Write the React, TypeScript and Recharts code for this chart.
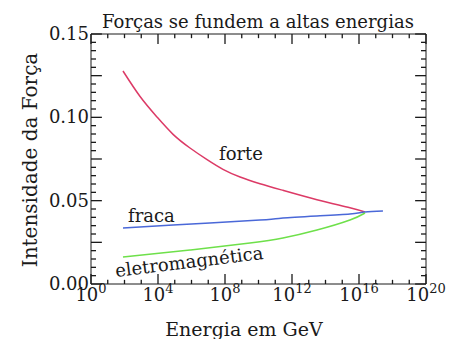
import React from "react";
import { LineChart, Line, XAxis, YAxis, ReferenceLine } from "recharts";

// log10(E / GeV) for each sampled point, and coupling strength
const forteLogE = [1.91, 2.93, 3.94, 4.9, 5.91, 6.93, 7.88, 8.9, 10.09, 11.46, 13.49, 15.46, 16.36];
const forteValues = [0.1278, 0.1125, 0.1002, 0.0898, 0.0816, 0.0746, 0.0688, 0.0642, 0.0602, 0.0562, 0.0506, 0.0458, 0.0432];

const fracaLogE = [1.91, 4.9, 10.09, 11.46, 13.49, 15.46, 16.36, 17.43];
const fracaValues = [0.0336, 0.0354, 0.0384, 0.0396, 0.0408, 0.042, 0.0432, 0.0438];

const emLogE = [1.91, 5.91, 9.49, 11.46, 13.49, 15.46, 16.36];
const emValues = [0.0162, 0.0204, 0.0246, 0.0276, 0.0324, 0.0384, 0.0426];

const xTicks = [0, 1, 2, 3, 4, 5, 6, 7, 8, 9, 10, 11, 12, 13, 14, 15, 16, 17, 18, 19, 20];
const yTicks = [
  0, 0.005, 0.01, 0.015, 0.02, 0.025, 0.03, 0.035, 0.04, 0.045, 0.05,
  0.055, 0.06, 0.065, 0.07, 0.075, 0.08, 0.085, 0.09, 0.095, 0.1,
  0.105, 0.11, 0.115, 0.12, 0.125, 0.13, 0.135, 0.14, 0.145, 0.15,
];

const X_MIN = 0;
const X_MAX = 20;
const Y_MIN = 0;
const Y_MAX = 0.15;

const toRows = (xs: number[], ys: number[]) => xs.map((e, i) => ({ logE: e, v: ys[i] }));
const forteData = toRows(forteLogE, forteValues);
const fracaData = toRows(fracaLogE, fracaValues);
const emData = toRows(emLogE, emValues);

const FONT = "DejaVu Serif";
const INK = "#1a1a1a";

const isMajorX = (v: number) => v % 4 === 0;
const yStep = (v: number) => Math.round(v * 1000);

// inward tick lengths, in the units of the perpendicular axis
const xTickLen = (v: number) => (isMajorX(v) ? 0.006 : 0.0025);
const yTickLen = (v: number) => (yStep(v) % 25 === 0 ? 0.65 : 0.3);

const BottomLabel = (props: any) => {
  const { x, y, payload } = props;
  if (!isMajorX(payload.value)) return <g />;
  return (
    <text x={x} y={y + 17} textAnchor="middle" fontFamily={FONT} fontSize={18} fill={INK}>
      10<tspan dy={-8} fontSize={13}>{payload.value}</tspan>
    </text>
  );
};

const LeftLabel = (props: any) => {
  const { x, y, payload } = props;
  if (yStep(payload.value) % 50 !== 0) return <g />;
  return (
    <text x={x - 2} y={y} dy={6} textAnchor="end" fontFamily={FONT} fontSize={18} fill={INK}>
      {payload.value.toFixed(2)}
    </text>
  );
};

const axisCommon = {
  allowDataOverflow: true,
  interval: 0 as const,
  tickSize: 0,
  tickMargin: 0,
  tickLine: false,
  stroke: INK,
};

const tickStyle = { stroke: INK, strokeWidth: 1.3, ifOverflow: "visible" as const };

export default function App() {
  return (
    <div style={{ position: "absolute", left: 0, top: 0, background: "#fff" }}>
      <LineChart width={452} height={339} margin={{ top: 33, right: 25, bottom: 54, left: 90 }}>
        <XAxis
          {...axisCommon}
          dataKey="logE"
          type="number"
          domain={[X_MIN, X_MAX]}
          ticks={xTicks}
          height={1}
          tick={<BottomLabel />}
        />
        <XAxis
          {...axisCommon}
          xAxisId="top"
          orientation="top"
          type="number"
          domain={[X_MIN, X_MAX]}
          height={1}
          tick={false}
        />
        <YAxis
          {...axisCommon}
          type="number"
          domain={[Y_MIN, Y_MAX]}
          ticks={yTicks}
          width={1}
          tick={<LeftLabel />}
        />
        <YAxis
          {...axisCommon}
          yAxisId="right"
          orientation="right"
          type="number"
          domain={[Y_MIN, Y_MAX]}
          width={1}
          tick={false}
        />

        {xTicks.map((t) => (
          <ReferenceLine key={`xb${t}`} {...tickStyle} segment={[{ x: t, y: Y_MIN }, { x: t, y: Y_MIN + xTickLen(t) }]} />
        ))}
        {xTicks.map((t) => (
          <ReferenceLine key={`xt${t}`} {...tickStyle} segment={[{ x: t, y: Y_MAX }, { x: t, y: Y_MAX - xTickLen(t) }]} />
        ))}
        {yTicks.map((t) => (
          <ReferenceLine key={`yl${t}`} {...tickStyle} segment={[{ x: X_MIN, y: t }, { x: X_MIN + yTickLen(t), y: t }]} />
        ))}
        {yTicks.map((t) => (
          <ReferenceLine key={`yr${t}`} {...tickStyle} segment={[{ x: X_MAX, y: t }, { x: X_MAX - yTickLen(t), y: t }]} />
        ))}

        <Line data={forteData} dataKey="v" type="natural" stroke="#dc3a66" strokeWidth={1.5} dot={false} isAnimationActive={false} />
        <Line data={fracaData} dataKey="v" type="natural" stroke="#4a68d8" strokeWidth={1.5} dot={false} isAnimationActive={false} />
        <Line data={emData} dataKey="v" type="natural" stroke="#6ee04a" strokeWidth={1.5} dot={false} isAnimationActive={false} />

        <text x={258} y={28} textAnchor="middle" fontFamily={FONT} fontSize={18} fill={INK}>
          Forças se fundem a altas energias
        </text>
        <text x={244} y={336} textAnchor="middle" fontFamily={FONT} fontSize={19} fill={INK}>
          Energia em GeV
        </text>
        <text transform="translate(37,160) rotate(-90)" textAnchor="middle" fontFamily={FONT} fontSize={20} fill={INK}>
          Intensidade da Força
        </text>
        <text x={219} y={160} fontFamily={FONT} fontSize={18} fill={INK}>forte</text>
        <text x={128} y={222} fontFamily={FONT} fontSize={18} fill={INK}>fraca</text>
        <text transform="translate(116,277) rotate(-7)" fontFamily={FONT} fontSize={18} fill={INK}>
          eletromagnética
        </text>
      </LineChart>
    </div>
  );
}
